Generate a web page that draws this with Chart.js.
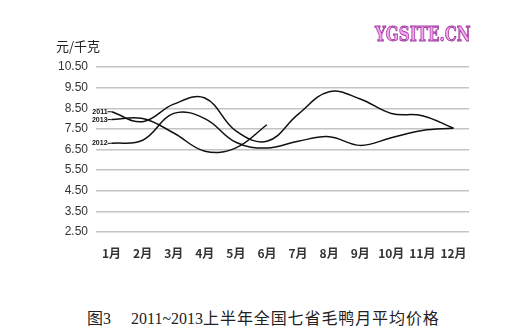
<!DOCTYPE html>
<html>
<head>
<meta charset="utf-8">
<script src="https://cdn.jsdelivr.net/npm/chart.js@4"></script>
<style>
  body { margin: 0; background: #fff; }
  #wrap { position: relative; width: 519px; height: 333px; overflow: hidden; }
  #priceChart { position: absolute; left: 0; top: 0; }
  .unit { position: absolute; left: 56px; top: 36px; font: 13px "Noto Sans CJK SC"; color: #222; }
  .site { position: absolute; left: 375px; top: 21px; font: bold 21px "DejaVu Serif"; color: #f4a4f0;
          -webkit-text-stroke: 1px #a03aa0; transform: scaleX(0.72); transform-origin: left top; }
  .caption { position: absolute; left: 87px; top: 305px; font: 16px "Liberation Serif", "Noto Sans CJK SC"; color: #222; white-space: nowrap; }
  .caption .cn { letter-spacing: 0.9px; }
</style>
</head>
<body>
<div id="wrap">
  <canvas id="priceChart" width="519" height="300"></canvas>
  <div class="unit">元/千克</div>
  <div class="site">YGSITE.CN</div>
  <div class="caption">图3<span style="display:inline-block;width:20px"></span>2011~2013<span class="cn">上半年全国七省毛鸭月平均价格</span></div>
</div>
<script>
const months = ["1月", "2月", "3月", "4月", "5月", "6月", "7月", "8月", "9月", "10月", "11月", "12月"]
const price2011 = [8.33, 7.85, 8.7, 9.0, 7.4, 6.9, 8.2, 9.3, 8.95, 8.25, 8.14, 7.53]
const price2013 = [7.95, 8.0, 7.3, 6.42, 6.58, 7.7]
const price2012 = [6.8, 6.95, 8.25, 8.0, 6.85, 6.57, 6.9, 7.12, 6.7, 7.07, 7.42, 7.53]
const yMin = 2.5
const yMax = 10.5
const yStep = 1

// small year tags at the start of each line
const seriesTags = {
  id: "seriesTags",
  afterDatasetsDraw(chart) {
    const ctx = chart.ctx
    ctx.save()
    ctx.font = "bold 7px Arial"
    ctx.textAlign = "right"
    ctx.textBaseline = "middle"
    ctx.fillStyle = "#111"
    ctx.strokeStyle = "#111"
    ctx.lineWidth = 1
    chart.data.datasets.forEach((ds, i) => {
      const pt = chart.getDatasetMeta(i).data[0]
      ctx.fillText(ds.label, pt.x - 4, pt.y)
      ctx.beginPath()
      ctx.moveTo(pt.x - 4, pt.y)
      ctx.lineTo(pt.x, pt.y)
      ctx.stroke()
    })
    ctx.restore()
  }
}

const lineStyle = {
  borderColor: "#111",
  borderWidth: 1.5,
  pointRadius: 0,
  tension: 0.4,
  fill: false,
}

new Chart(document.getElementById("priceChart").getContext("2d"), {
  type: "line",
  data: {
    labels: months,
    datasets: [
      { label: "2011", data: price2011, ...lineStyle },
      { label: "2013", data: price2013, ...lineStyle },
      { label: "2012", data: price2012, ...lineStyle },
    ],
  },
  options: {
    responsive: false,
    animation: false,
    layout: { padding: { left: 46, right: 50, top: 67, bottom: 38 } },
    plugins: { legend: { display: false }, tooltip: { enabled: false } },
    scales: {
      x: {
        offset: true,
        grid: { display: false },
        border: { display: false },
        ticks: {
          color: "#333",
          padding: 6,
          maxRotation: 0,
          minRotation: 0,
          autoSkip: false,
          font: { family: "Noto Sans CJK SC", size: 12, weight: "bold" },
        },
        afterFit(scale) { scale.height = 30 },
      },
      y: {
        min: yMin,
        max: yMax,
        grid: { color: "#c4c4c4", lineWidth: 1.5, drawTicks: false },
        border: { display: false },
        ticks: {
          stepSize: yStep,
          color: "#333",
          padding: 8,
          font: { family: "Liberation Sans", size: 12 },
          callback: (v) => v.toFixed(2),
        },
        afterFit(scale) { scale.width = 50 },
      },
    },
  },
  plugins: [seriesTags],
})
</script>
</body>
</html>
